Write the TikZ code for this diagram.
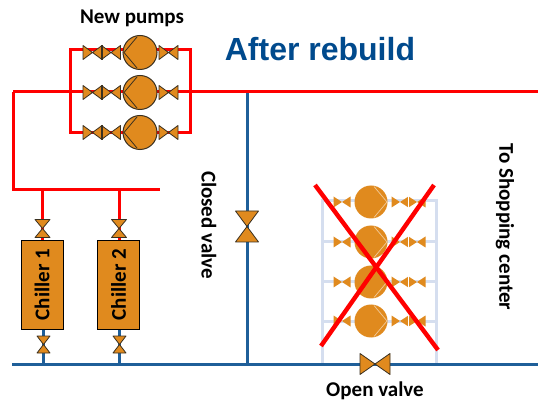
\documentclass[tikz,border=0pt]{standalone}
\usepackage{fontspec}
\setmainfont{Carlito}
\newfontfamily\headfont{Liberation Sans}
\definecolor{pumporange}{HTML}{E08A1E}
\definecolor{pipeblue}{HTML}{1F5F99}
\definecolor{pipered}{HTML}{FF0000}
\definecolor{fadeline}{HTML}{D5DEEF}
\definecolor{headblue}{HTML}{004A8D}
\definecolor{edgebrown}{HTML}{3A3020}
\tikzset{
  redpipe/.style={draw=pipered,line width=3pt},
  bluepipe/.style={draw=pipeblue,line width=3pt},
  fadepipe/.style={draw=fadeline,line width=3pt},
  lbl/.style={text=black,inner sep=0pt,font=\fontsize{21}{21}\selectfont\bfseries},
  chillerbox/.style={draw=black,fill=pumporange,line width=0.9pt,minimum width=42pt,minimum height=89pt,inner sep=0pt},
}
% valve symbol: centre x, centre y, half length, half width, angle
\newcommand{\valvesym}[5]{%
  \begin{scope}[shift={(#1,#2)},rotate=#5]
    \fill[pumporange,draw=edgebrown,line width=0.8pt,line join=round]
      (-#3,-#4) -- (#3,#4) -- (#3,-#4) -- (-#3,#4) -- cycle;
  \end{scope}}
\newcommand{\pumpsym}[2]{%
  \fill[pumporange,draw=edgebrown,line width=1pt] (#1,#2) circle (17);
  \draw[edgebrown,line width=0.8pt] (#1-16,#2) -- (#1-3,#2+15.5) (#1-16,#2) -- (#1-3,#2-15.5);
}
\newcommand{\fadepump}[2]{%
  \fill[pumporange] (#1,#2) circle (16.5);
  \draw[pumporange!45!white,line width=0.7pt] (#1+16,#2) -- (#1+3,#2+15.5) (#1+16,#2) -- (#1+3,#2-15.5);
}
\newcommand{\fadevalve}[2]{%
  \fill[pumporange] (#1-8.5,#2+5.5) -- (#1+8.5,#2-5.5) -- (#1+8.5,#2+5.5) -- (#1-8.5,#2-5.5) -- cycle;
}
\begin{document}
\begin{tikzpicture}[x=1pt,y=-1pt]
\useasboundingbox (0,0) rectangle (538,403);
\fill[white] (0,0) rectangle (538,403);

\coordinate (mainL) at (13,92);
\coordinate (mainR) at (538,92);
\coordinate (retL) at (13,190);
\coordinate (retR) at (160,190);
\coordinate (busL) at (12,364);
\coordinate (busR) at (538,364);

% faded bypass pipes
\draw[fadepipe] (322,364) -- (322,201) -- (436,201) -- (436,364);
\draw[fadepipe] (322,242) -- (436,242) (322,282) -- (436,282) (322,321) -- (436,321);

% blue
\draw[bluepipe] (busL) -- (busR);
\draw[bluepipe] (247,92) -- (247,364);
\draw[bluepipe] (43.5,329) -- (43.5,364);
\draw[bluepipe] (119.5,329) -- (119.5,364);

% red
\draw[redpipe] (mainL) -- (mainR);
\draw[redpipe] (mainL) -- (retL) -- (retR);
\draw[redpipe] (42,190) -- (42,240);
\draw[redpipe] (119,190) -- (119,240);
\draw[redpipe] (178,50) -- (70,50) -- (70,133) -- (190,133) -- (190,50) -- (178,50);

% new pumps
\foreach \y in {52.5,92.5,132.5}{
  \valvesym{92.5}{\y}{9.5}{7}{0}
  \valvesym{111}{\y}{9.5}{7}{0}
  \draw[edgebrown,line width=0.8pt] (102,\y-7.5) -- (102,\y+7.5);
  \valvesym{168.5}{\y}{9.5}{7}{0}
  \pumpsym{140}{\y}
}

% chillers
\node[chillerbox] (ch1) at (42,284.5) {};
\node[chillerbox] (ch2) at (118.5,284.5) {};
\node[lbl,rotate=90] at (42,284.5) {Chiller 1};
\node[lbl,rotate=90] at (118.5,284.5) {Chiller 2};
\valvesym{42.5}{228.5}{9}{7.5}{90}
\valvesym{119}{228.5}{9}{7.5}{90}
\valvesym{43.5}{344.5}{8.5}{6.5}{90}
\valvesym{119.5}{344.5}{8.5}{6.5}{90}

% closed and open valve
\valvesym{247}{226.5}{15.5}{11.5}{90}
\valvesym{375}{364}{15}{10.5}{0}

% faded pumps
\foreach \y in {202,242,282,321}{
  \fadepump{371}{\y}
  \fadevalve{342}{\y}
  \fadevalve{400}{\y}
  \fadevalve{417}{\y}
  \draw[white,line width=0.6pt] (408.5,\y-6) -- (408.5,\y+6);
}

% red cross
\draw[pipered,line width=4.4pt] (315,185) -- (438,350);
\draw[pipered,line width=4.4pt] (434,185) -- (321,346);

% text
\node[inner sep=0pt,text=headblue,font=\headfont\bfseries\fontsize{32}{32}\selectfont] (title) at (320,49) {After rebuild};
\node[lbl] (newp) at (132,18) {New pumps};
\node[lbl,rotate=-90] (cv) at (209,225) {Closed valve};
\node[lbl,rotate=-90] (ts) at (505,227) {To Shopping center};
\node[lbl] (ov) at (375,391) {Open valve};
\end{tikzpicture}
\end{document}
